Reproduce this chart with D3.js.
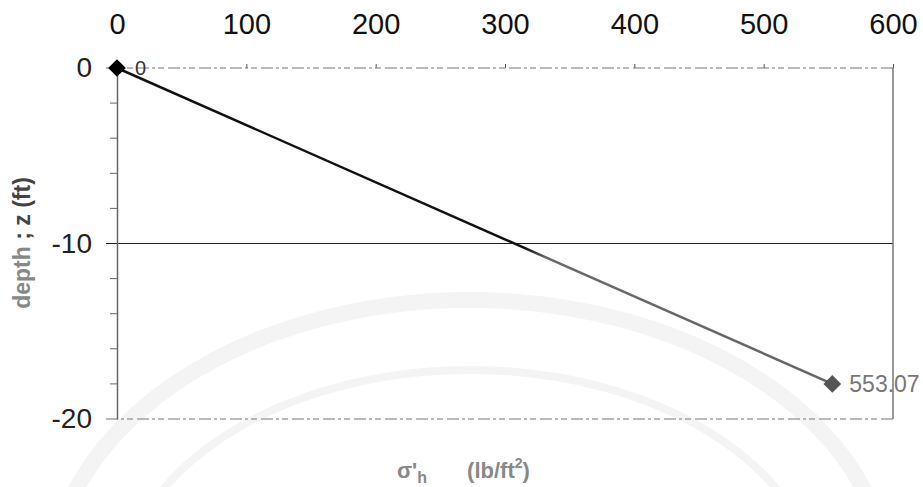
<!DOCTYPE html>
<html>
<head>
<meta charset="utf-8">
<script src="https://cdnjs.cloudflare.com/ajax/libs/d3/7.8.5/d3.min.js"></script>
<style>
	body { margin: 0; background: #fff; }
	svg { display: block; font-family: "Liberation Sans", Arial, sans-serif; }
</style>
</head>
<body>
<svg width="923" height="487"></svg>
<script>
// values
var stress = [0, 553.07];      // sigma'h (lb/ft2)
var depth = [0, -18];          // z (ft)
var pointLabels = ['0', '553.07'];
var xTicks = [0, 100, 200, 300, 400, 500, 600];
var yTicks = [0, -10, -20];
var yMinor = [-2, -4, -6, -8, -12, -14, -16, -18];

var svg = d3.select("svg"),
	width = +svg.attr("width"),
	height = +svg.attr("height");

var margin = { left: 117, right: 30, top: 68, bottom: 68 };

var x = d3.scaleLinear().domain([0, 600]).range([margin.left, width - margin.right]);
var y = d3.scaleLinear().domain([-20, 0]).range([height - margin.bottom, margin.top]);

//faint watermark bands behind the chart
var wm = svg.append("g").attr("fill", "none").attr("stroke", "#f4f4f4");
wm.append("ellipse").attr("cx", 470).attr("cy", 590).attr("rx", 420).attr("ry", 290).attr("stroke-width", 16);
wm.append("ellipse").attr("cx", 470).attr("cy", 600).attr("rx", 350).attr("ry", 230).attr("stroke-width", 8);

//gridlines at the major depths
svg.append("g")
	.selectAll("line")
	.data(yTicks)
	.enter().append("line")
		.attr("x1", x(0) - 11)
		.attr("x2", x(600))
		.attr("y1", function(d) { return y(d); })
		.attr("y2", function(d) { return y(d); })
		.attr("stroke", function(d) { return d == -10 ? "#222" : "#777"; })
		.attr("stroke-width", 1)
		.attr("stroke-dasharray", function(d) { return d == -10 ? null : "12,3,3,3,6,4"; });

//right border
svg.append("line")
	.attr("x1", x(600)).attr("x2", x(600))
	.attr("y1", y(0)).attr("y2", y(-20))
	.attr("stroke", "#777")
	.attr("stroke-width", 1.5);

//top axis
var xAxis = svg.append("g")
	.attr("transform", "translate(0," + y(0) + ")")
	.call(d3.axisTop(x).tickValues(xTicks).tickSize(4).tickPadding(30).tickFormat(function(d) { return d; }));
xAxis.select(".domain").remove();
xAxis.selectAll(".tick line").attr("stroke", "#555");
xAxis.selectAll("text").attr("font-size", 29).attr("fill", "#111");

//left axis
var yAxis = svg.append("g")
	.attr("transform", "translate(" + x(0) + ",0)")
	.call(d3.axisLeft(y).tickValues(yTicks).tickSize(0).tickPadding(25).tickFormat(function(d) { return String(d); }));
yAxis.select(".domain").attr("stroke", "#666").attr("stroke-width", 1.5);
yAxis.selectAll("text").attr("font-size", 28).attr("fill", "#222");

svg.append("g")
	.selectAll("line")
	.data(yMinor)
	.enter().append("line")
		.attr("x1", x(0) - 7)
		.attr("x2", x(0))
		.attr("y1", function(d) { return y(d); })
		.attr("y2", function(d) { return y(d); })
		.attr("stroke", "#666")
		.attr("stroke-width", 1);

//line, dark at the top and fading to grey
var points = stress.map(function(s, i) { return { s: s, z: depth[i], label: pointLabels[i] }; });

var grad = svg.append("defs").append("linearGradient")
	.attr("id", "lineshade")
	.attr("gradientUnits", "userSpaceOnUse")
	.attr("x1", x(stress[0])).attr("x2", x(stress[1]))
	.attr("y1", 0).attr("y2", 0);
grad.append("stop").attr("offset", 0.57).attr("stop-color", "#111");
grad.append("stop").attr("offset", 0.6).attr("stop-color", "#6a6a6a");
grad.append("stop").attr("offset", 1).attr("stop-color", "#666");

svg.append("path")
	.datum(points)
	.attr("fill", "none")
	.attr("stroke", "url(#lineshade)")
	.attr("stroke-width", 2.5)
	.attr("d", d3.line().x(function(d) { return x(d.s); }).y(function(d) { return y(d.z); }));

svg.append("g")
	.selectAll("path")
	.data(points)
	.enter().append("path")
		.attr("transform", function(d) { return "translate(" + x(d.s) + "," + y(d.z) + ")"; })
		.attr("d", d3.symbol().type(d3.symbolDiamond2).size(200))
		.attr("fill", function(d, i) { return i == 0 ? "#000" : "#555"; });

svg.append("g")
	.selectAll("text")
	.data(points)
	.enter().append("text")
		.attr("x", function(d) { return x(d.s) + (d.s == 0 ? 18 : 17); })
		.attr("y", function(d) { return y(d.z); })
		.attr("dy", "0.36em")
		.attr("font-size", function(d) { return d.s == 0 ? 20 : 23; })
		.attr("fill", function(d) { return d.s == 0 ? "#333" : "#777"; })
		.text(function(d) { return d.label; });

//axis titles
var yt = svg.append("text")
	.attr("transform", "translate(30,243) rotate(-90)")
	.attr("text-anchor", "middle")
	.attr("font-size", 23)
	.attr("font-weight", "bold");
yt.append("tspan").attr("fill", "#888").text("depth");
yt.append("tspan").attr("fill", "#444").text(" ; z (ft)");

var xt = svg.append("text")
	.attr("x", 397)
	.attr("y", 478)
	.attr("font-size", 22)
	.attr("font-weight", "bold")
	.attr("fill", "#888");
xt.append("tspan").text("σ'");
xt.append("tspan").attr("font-size", 16).attr("dy", 5).text("h");
xt.append("tspan").attr("dy", -5).attr("dx", 40).text("(lb/ft");
xt.append("tspan").attr("font-size", 14).attr("dy", -10).text("2");
xt.append("tspan").attr("dy", 10).text(")");
</script>
</body>
</html>
